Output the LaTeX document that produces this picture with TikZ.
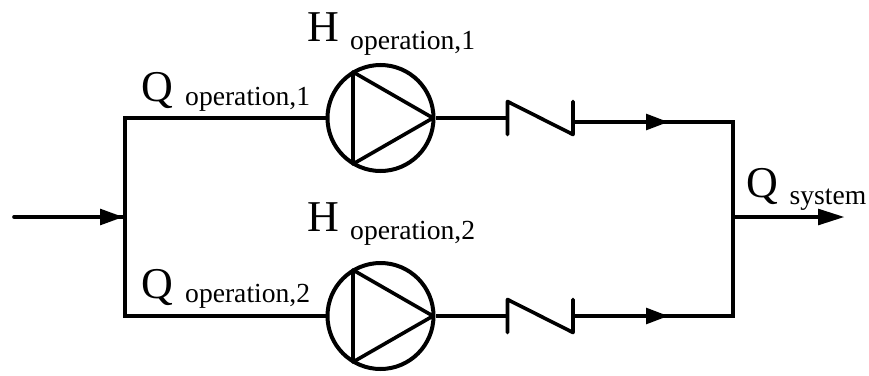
\documentclass[tikz,border=0pt]{standalone}
\usepackage{fontspec}
\setmainfont{Liberation Serif}
\usetikzlibrary{arrows.meta,calc}
\tikzset{
  x=1pt,y=-1pt,
  pipe/.style={line width=4pt,line cap=butt,line join=round},
  pumpbody/.style={circle,draw,line width=4pt,minimum size=106pt,inner sep=0pt},
  tri/.style={line width=3.6pt,line join=round},
  big/.style={anchor=base west,inner sep=0pt,font=\fontsize{44}{44}\selectfont},
  small/.style={anchor=base west,inner sep=0pt,font=\fontsize{27.6}{28}\selectfont}
}
\newcommand{\flowtip}[3]{\fill (#1,#2) -- ++(-#3,-8.4) -- ++(0,16.8) -- cycle;}
\begin{document}
\begin{tikzpicture}
\useasboundingbox (0,0) rectangle (869,375);
% labels
\node[big] (h1) at (307,41) {H};
\node[small] (h1s) at (350,49) {operation,1};
\node[big] (h2) at (307,231) {H};
\node[small] (h2s) at (350,239) {operation,2};
\node[big] (q1) at (141.5,101) {Q};
\node[small] (q1s) at (185,105) {operation,1};
\node[big] (q2) at (141.5,298) {Q};
\node[small] (q2s) at (185,302) {operation,2};
\node[big] (q3) at (746.5,197) {Q};
\node[small] (q3s) at (789.5,204) {system};
% pumps
\node[pumpbody] (p1) at (380.5,118) {};
\node[pumpbody] (p2) at (380.5,316) {};
\foreach \p/\y in {p1/118,p2/316}{
  \coordinate (\p a) at (353,\y-46);
  \coordinate (\p b) at (353,\y+46);
  \coordinate (\p c) at (433,\y);
  \draw[tri] (\p a) -- (\p b) -- (\p c) -- cycle;
}
% valves
\foreach \v/\y in {v1/118,v2/316}{
  \coordinate (\v l) at (507.5,\y);
  \coordinate (\v r) at (573,\y);
  \draw[pipe,line width=3.6pt,line cap=round,line join=round] (507.5,\y+16.5) -- (507.5,\y-16.5) -- (573,\y+16.5) -- (573,\y-16.5);
}
% junction points
\coordinate (in) at (14,217);
\coordinate (lj) at (125,217);
\coordinate (lt) at (125,118);
\coordinate (lb) at (125,316);
\coordinate (rt) at (733,122);
\coordinate (rb) at (733,316);
\coordinate (rj) at (733,217);
\coordinate (out) at (820,217);
\coordinate (vo1) at (573,122);
\coordinate (vo2) at (573,316);
% connectors
\draw[pipe,line width=3.6pt,line cap=round] (lj) -- (in);
\draw[pipe,line width=4.4pt,line join=miter] (p1.west) -- (lt) -- (lb) -- (p2.west);
\draw[pipe] (p1.east) -- (v1l);
\draw[pipe] (p2.east) -- (v2l);
\draw[pipe,line join=miter] (vo1) -- (rt) -- (rb) -- (vo2);
\draw[pipe] (rj) -- (out);
% arrowheads
\flowtip{123}{217}{23}
\flowtip{844}{217}{26}
\flowtip{668}{122}{22}
\flowtip{668}{316}{22}
\end{tikzpicture}
\end{document}
